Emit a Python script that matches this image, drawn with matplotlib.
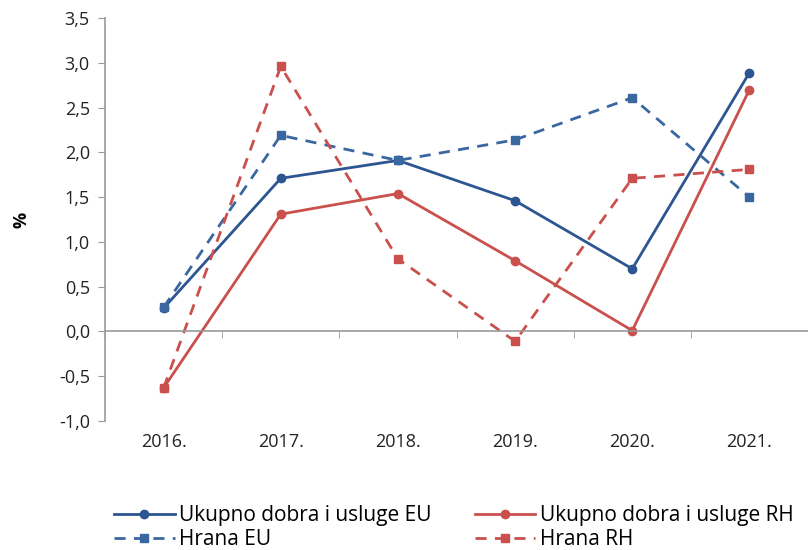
import matplotlib
matplotlib.use("Agg")
import matplotlib.pyplot as plt
import matplotlib.transforms as mtrans
import numpy as np

# podaci (očitano s grafikona)
godine = ["2016.", "2017.", "2018.", "2019.", "2020.", "2021."]
ukupno_eu = [0.26, 1.71, 1.91, 1.46, 0.70, 2.89]
ukupno_rh = [-0.63, 1.31, 1.54, 0.79, 0.01, 2.70]
hrana_eu = [0.27, 2.19, 1.91, 2.14, 2.61, 1.50]
hrana_rh = [-0.63, 2.96, 0.81, -0.11, 1.71, 1.81]
y_ticks = np.arange(-1.0, 3.51, 0.5)

BLUE = "#2C5591"
BLUE_D = "#3A67A0"
RED = "#C9504C"

plt.rcParams["font.family"] = ["Open Sans", "DejaVu Sans"]

fig = plt.figure(figsize=(8.08, 5.50), dpi=100)
ax = fig.add_axes([0.130, 0.2345, 0.870, 0.7327])

x = np.arange(len(godine))
l1, = ax.plot(x, ukupno_eu, color=BLUE, lw=2, marker="o", ms=6,
              label="Ukupno dobra i usluge EU")
l2, = ax.plot(x, ukupno_rh, color=RED, lw=2, marker="o", ms=6,
              label="Ukupno dobra i usluge RH")
l3, = ax.plot(x, hrana_eu, color=BLUE_D, lw=2, ls=(0, (4, 3)), marker="s", ms=6,
              label="Hrana EU")
l4, = ax.plot(x, hrana_rh, color=RED, lw=2, ls=(0, (4, 3)), marker="s", ms=6,
              label="Hrana RH")

ax.set_xlim(-0.5, len(godine) - 0.5)
ax.set_ylim(-1.0, 3.5)
ax.set_yticks(y_ticks)
ax.set_yticklabels([f"{v:.1f}".replace(".", ",") for v in y_ticks],
                   fontsize=13, color="#222222")
ax.tick_params(axis="y", length=5, color="#999999", pad=6)
ax.set_ylabel("%", fontsize=13, fontweight="bold", labelpad=20)

# os x na nuli, oznake kategorija dolje
for s in ["top", "right"]:
    ax.spines[s].set_visible(False)
ax.spines["left"].set_color("#999999")
ax.spines["left"].set_linewidth(1.2)
ax.spines["bottom"].set_position(("data", 0))
ax.spines["bottom"].set_color("#999999")
ax.spines["bottom"].set_linewidth(1.2)
ax.set_xticks(x)
ax.set_xticklabels([])
ax.tick_params(axis="x", length=0)
ax.set_xticks(np.arange(-0.5, len(godine)), minor=True)
ax.tick_params(axis="x", which="minor", length=5, color="#999999")
tr = mtrans.blended_transform_factory(ax.transData, ax.transAxes)
for xi, g in zip(x, godine):
    ax.text(xi, -0.03, g, transform=tr, ha="center", va="top", fontsize=13,
            color="#222222")

fig.legend([l1, l3, l2, l4],
           [l1.get_label(), l3.get_label(), l2.get_label(), l4.get_label()],
           ncol=2, loc="lower left", bbox_to_anchor=(0.118, -0.034),
           frameon=False, fontsize=15, handlelength=2.9,
           columnspacing=2.1, labelspacing=0.12, handletextpad=0.2)

fig.savefig("out.png", dpi=100)
